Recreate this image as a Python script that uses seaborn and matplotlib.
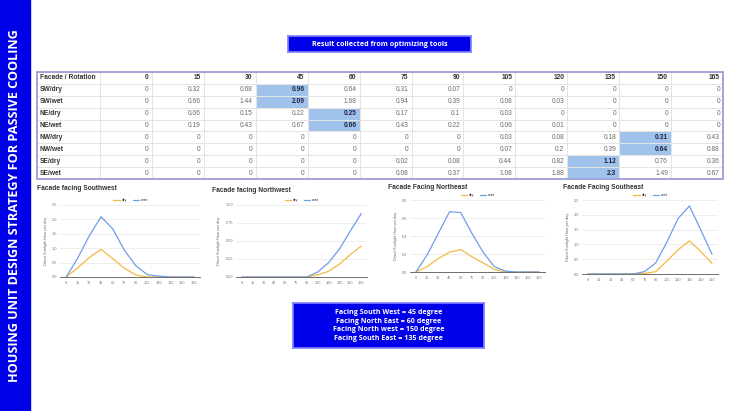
"""Slide: passive-cooling facade rotation results (table + 4 line charts)."""
import matplotlib

matplotlib.use("Agg")
import matplotlib.pyplot as plt
import numpy as np
import pandas as pd
import seaborn as sns
from matplotlib.colors import ListedColormap
from matplotlib.patches import Rectangle

# --- Data ------------------------------------------------------------------
ROTATIONS = [0, 15, 30, 45, 60, 75, 90, 105, 120, 135, 150, 165]
ROW_LABELS = ["SW/dry", "SW/wet", "NE/dry", "NE/wet",
              "NW/dry", "NW/wet", "SE/dry", "SE/wet"]
SW_DRY = [0, 0.32, 0.68, 0.96, 0.64, 0.31, 0.07, 0, 0, 0, 0, 0]
SW_WET = [0, 0.66, 1.44, 2.09, 1.68, 0.94, 0.39, 0.08, 0.03, 0, 0, 0]
NE_DRY = [0, 0.06, 0.15, 0.22, 0.25, 0.17, 0.1, 0.03, 0, 0, 0, 0]
NE_WET = [0, 0.19, 0.43, 0.67, 0.66, 0.43, 0.22, 0.06, 0.01, 0, 0, 0]
NW_DRY = [0, 0, 0, 0, 0, 0, 0, 0.03, 0.08, 0.18, 0.31, 0.43]
NW_WET = [0, 0, 0, 0, 0, 0, 0, 0.07, 0.2, 0.39, 0.64, 0.88]
SE_DRY = [0, 0, 0, 0, 0, 0.02, 0.08, 0.44, 0.82, 1.12, 0.76, 0.36]
SE_WET = [0, 0, 0, 0, 0, 0.08, 0.37, 1.08, 1.88, 2.3, 1.49, 0.67]
BEST_ANGLE = {"SW": 45, "NE": 60, "NW": 150, "SE": 135}

CHARTS = [  # (title, facade, y max, y tick step, tick format)
    ("Facade facing Southwest", "SW", 2.5, 0.5, "{:.1f}"),
    ("Facade facing Northwest", "NW", 1.0, 0.25, "{:.2f}"),
    ("Facade Facing Northeast", "NE", 0.8, 0.2, "{:.1f}"),
    ("Facade Facing Southeast", "SE", 2.5, 0.5, "{:.1f}"),
]
SUMMARY = ["Facing South West = 45 degree", "Facing North East = 60 degree",
           "Facing North west = 150 degree", "Facing South East = 135 degree"]

BLUE = "#0000e8"
DRY_C = "#f4b942"
WET_C = "#6d9ee8"
HILITE = "#9fc3ea"

sns.set_theme(style="white")
plt.rcParams["font.family"] = ["Liberation Sans", "DejaVu Sans"]

table = pd.DataFrame([SW_DRY, SW_WET, NE_DRY, NE_WET, NW_DRY, NW_WET, SE_DRY, SE_WET],
                     index=ROW_LABELS, columns=ROTATIONS)

fig = plt.figure(figsize=(7.3, 4.11), dpi=100)
W, H = 730, 411


def fig_rect(x0, y0, x1, y1):
    """pixel box (top-left origin) -> figure fraction [l, b, w, h]"""
    return [x0 / W, 1 - y1 / H, (x1 - x0) / W, (y1 - y0) / H]


# --- left banner -----------------------------------------------------------
fig.patches.append(Rectangle((0, 0), 30 / W, 1, transform=fig.transFigure,
                             color=BLUE, zorder=0))
fig.text(15 / W, 0.5, "HOUSING UNIT DESIGN STRATEGY FOR PASSIVE COOLING",
         rotation=90, ha="center", va="center", color="white",
         fontsize=9.1, fontweight="bold", family=["Open Sans", "DejaVu Sans"])

# --- title box -------------------------------------------------------------
tb = fig.add_axes(fig_rect(288, 36, 471, 52))
tb.set_facecolor(BLUE)
tb.set_xticks([]); tb.set_yticks([])
for s in tb.spines.values():
    s.set_color("#8080ff")
tb.text(0.5, 0.5, "Result collected from optimizing tools", ha="center",
        va="center", color="white", fontsize=5.1, fontweight="bold",
        family=["Open Sans", "DejaVu Sans"], transform=tb.transAxes)

# --- table -----------------------------------------------------------------
T_TOP, T_BOT, T_LEFT, T_SPLIT, T_RIGHT = 72, 179, 37, 100, 723
GRID_C = "#e4e4e4"
flags = np.zeros((len(ROW_LABELS) + 1, len(ROTATIONS)))
for i, lab in enumerate(ROW_LABELS):
    flags[i + 1, ROTATIONS.index(BEST_ANGLE[lab[:2]])] = 1

cmap = ListedColormap(["white", HILITE])
lab_ax = fig.add_axes(fig_rect(T_LEFT, T_TOP, T_SPLIT, T_BOT))
sns.heatmap(np.zeros((flags.shape[0], 1)), cmap=cmap, vmin=0, vmax=1, cbar=False,
            linewidths=0.5, linecolor=GRID_C, xticklabels=False,
            yticklabels=False, ax=lab_ax)
num_ax = fig.add_axes(fig_rect(T_SPLIT, T_TOP, T_RIGHT, T_BOT))
sns.heatmap(flags, cmap=cmap, vmin=0, vmax=1, cbar=False, linewidths=0.5,
            linecolor=GRID_C, xticklabels=False, yticklabels=False, ax=num_ax)

FS = 4.8
lab_ax.text(0.04, 0.5, "Facade / Rotation", ha="left", va="center",
            fontsize=FS, fontweight="bold", color="#333333")
for i, lab in enumerate(ROW_LABELS):
    lab_ax.text(0.04, i + 1.5, lab, ha="left", va="center", fontsize=FS,
                fontweight="bold", color="#333333")
for j, rot in enumerate(ROTATIONS):
    num_ax.text(j + 0.94, 0.5, str(rot), ha="right", va="center", fontsize=FS,
                fontweight="bold", color="#333333")
    for i, lab in enumerate(ROW_LABELS):
        v = table.loc[lab, rot]
        bold = flags[i + 1, j] == 1
        num_ax.text(j + 0.94, i + 1.5, f"{v:g}", ha="right", va="center",
                    fontsize=FS, fontweight="bold" if bold else "normal",
                    color="#222244" if bold else "#6a6a6a")

fig.patches.append(Rectangle((T_LEFT / W, 1 - T_BOT / H), (T_RIGHT - T_LEFT) / W,
                             (T_BOT - T_TOP) / H, transform=fig.transFigure,
                             fill=False, edgecolor="#a3a3dc", linewidth=1.4,
                             zorder=5))

# --- line charts -----------------------------------------------------------
AX_BOXES = [(60, 205, 200, 277), (236, 205, 367, 277),
            (410, 200, 545, 272), (582, 200, 718, 274)]
TITLE_POS = [(37, 188), (212, 190), (388, 187), (563, 187)]

for (title, fac, ymax, step, fmt), box, tpos in zip(CHARTS, AX_BOXES, TITLE_POS):
    ax = fig.add_axes(fig_rect(*box))
    long = pd.DataFrame({
        "rotation": ROTATIONS * 2,
        "hours": list(table.loc[f"{fac}/dry"]) + list(table.loc[f"{fac}/wet"]),
        "series": ["dry"] * 12 + ["wet"] * 12,
    })
    sns.lineplot(data=long, x="rotation", y="hours", hue="series",
                 palette={"dry": DRY_C, "wet": WET_C}, linewidth=0.9, ax=ax)
    ax.set_xlim(-8, 173)
    ax.set_ylim(0, ymax)
    yt = np.arange(0, ymax + 1e-9, step)
    ax.set_yticks(yt)
    ax.set_yticklabels([fmt.format(t) for t in yt])
    ax.set_xticks(ROTATIONS)
    ax.tick_params(labelsize=2.8, colors="#777777", length=0, pad=2)
    ax.tick_params(axis="x", length=2, width=0.5, direction="inout",
                   color="#555555")
    ax.grid(axis="y", color="#e6e6e6", linewidth=0.5)
    for side in ["top", "right", "left"]:
        ax.spines[side].set_visible(False)
    ax.spines["bottom"].set_color("#555555")
    ax.spines["bottom"].set_linewidth(0.6)
    ax.set_xlabel("")
    ax.set_ylabel("Direct Sunlight Hour per day", fontsize=2.8, color="#666666",
                  labelpad=3)
    ax.legend(loc="lower center", bbox_to_anchor=(0.5, 1.02), ncol=2,
              frameon=False, fontsize=2.8, handlelength=1.6, columnspacing=1.5,
              handletextpad=0.5, borderaxespad=0)
    fig.text(tpos[0] / W, 1 - tpos[1] / H, title, ha="left", va="center",
             fontsize=4.8, fontweight="bold", color="#333333")

# --- summary box -----------------------------------------------------------
sb = fig.add_axes(fig_rect(293, 303, 484, 348))
sb.set_facecolor(BLUE)
sb.set_xticks([]); sb.set_yticks([])
for s in sb.spines.values():
    s.set_color("#8080ff")
sb.text(0.5, 0.5, "\n".join(SUMMARY), ha="center", va="center", color="white",
        fontsize=5.1, fontweight="bold", linespacing=1.3,
        family=["Open Sans", "DejaVu Sans"], transform=sb.transAxes)

fig.savefig("out.png", dpi=100)
